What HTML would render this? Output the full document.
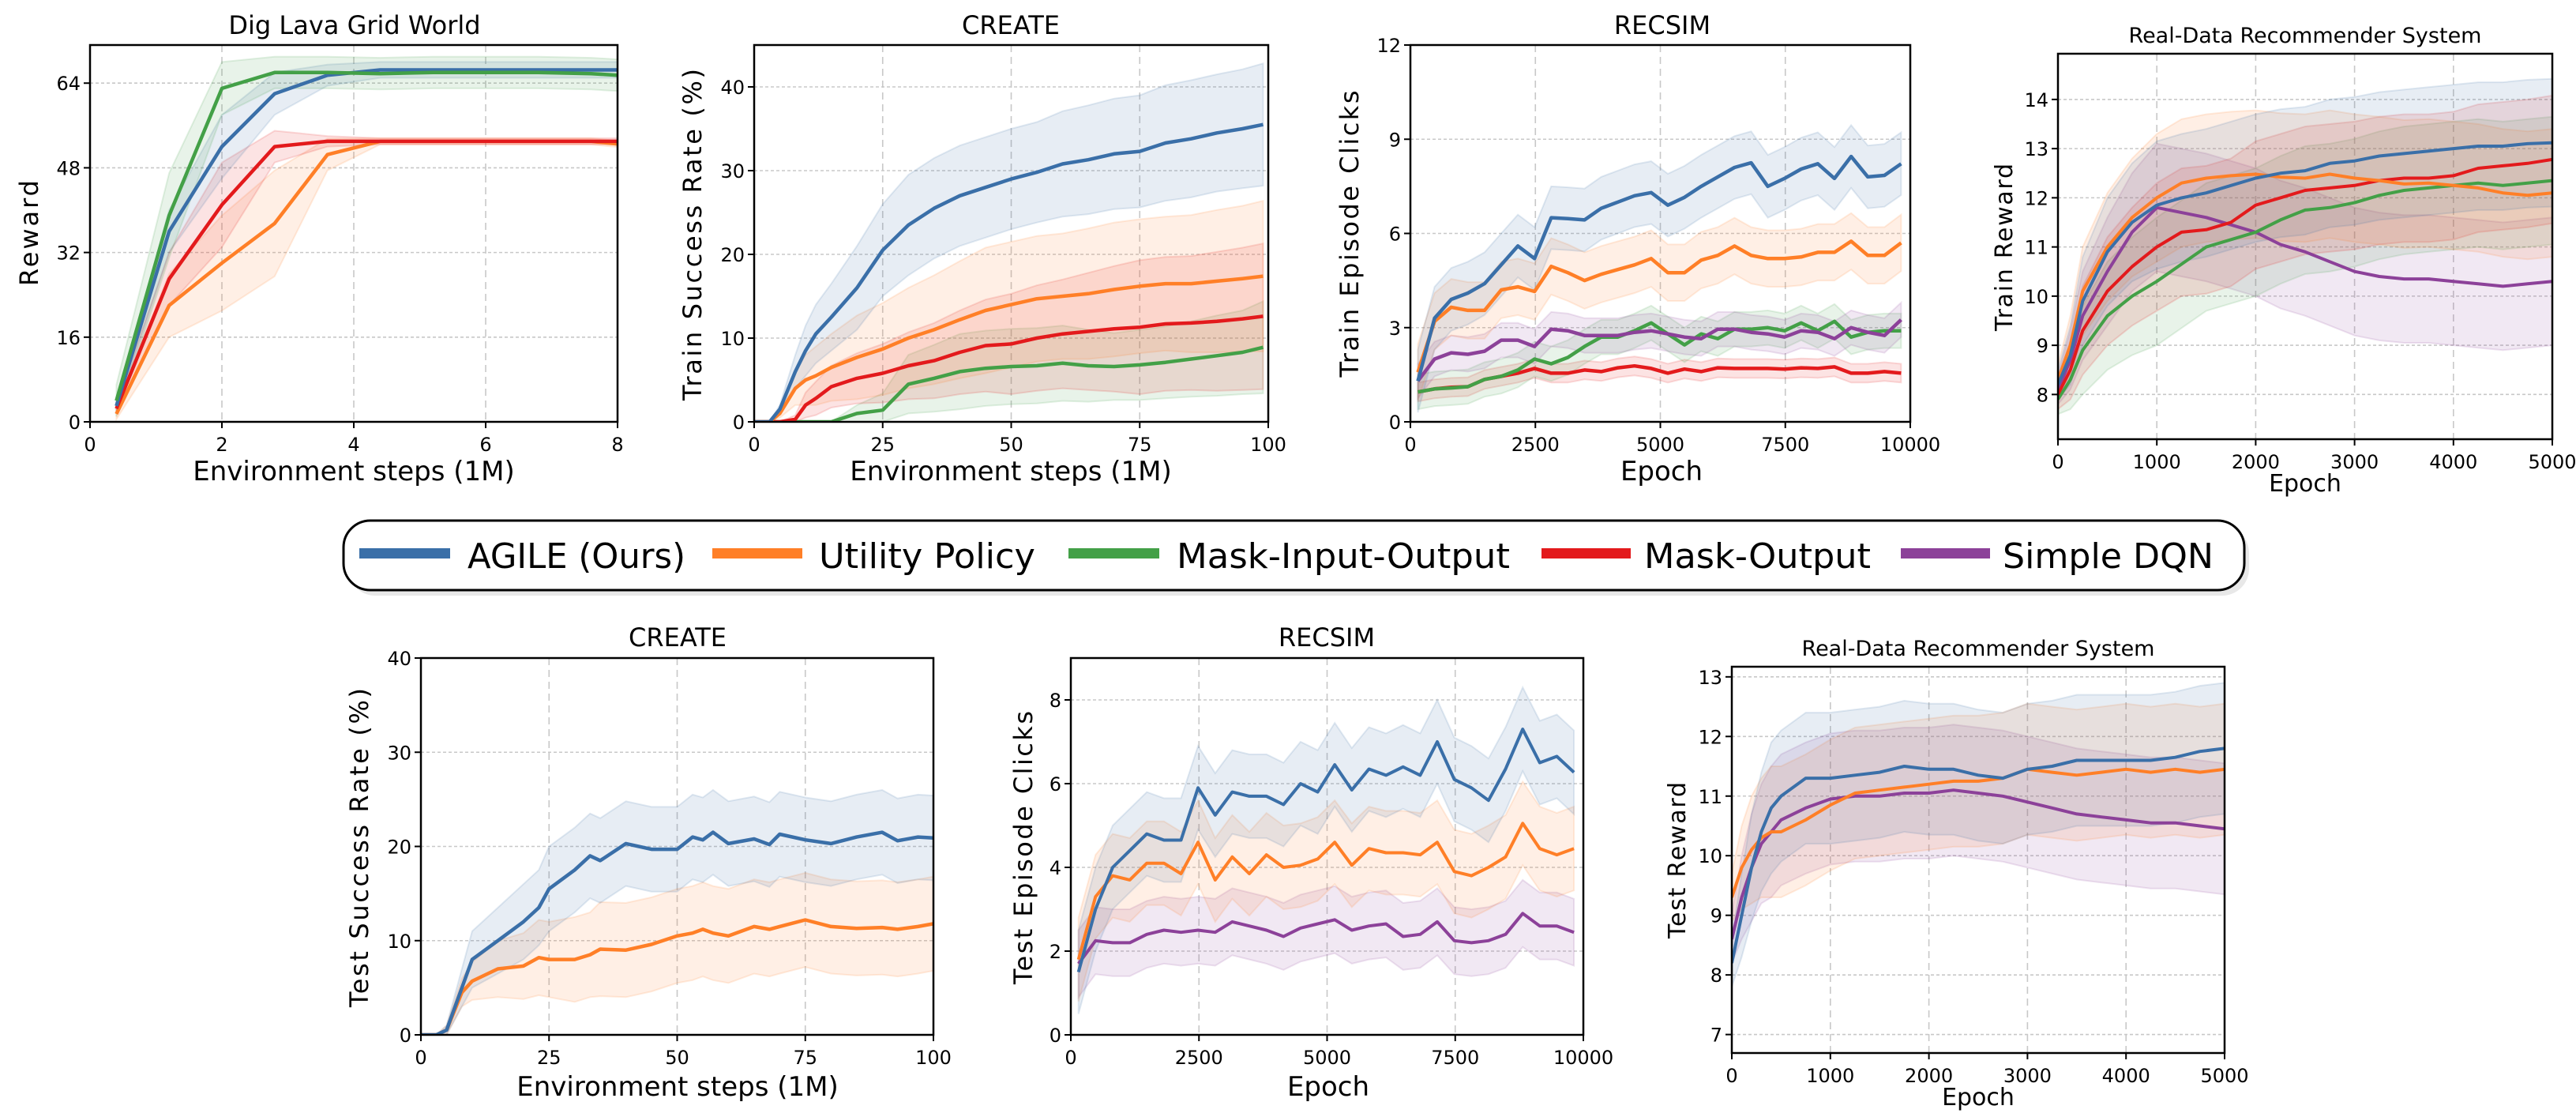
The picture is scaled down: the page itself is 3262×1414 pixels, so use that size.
<!DOCTYPE html>
<html><head><meta charset="utf-8">
<style>
html,body{margin:0;padding:0;background:#fff;}
svg{display:block;font-family:"DejaVu Sans","Liberation Sans",sans-serif;}
</style></head>
<body>
<svg id="fig" width="3262" height="1414" viewBox="0 0 3262 1414" xmlns="http://www.w3.org/2000/svg">
<g id="legend">
  <rect x="441" y="666" width="2407" height="88" rx="34" fill="#d8d8d8" opacity="0.6"/>
  <rect x="435" y="659" width="2407" height="88" rx="34" fill="#fff" stroke="#000" stroke-width="3"/>
  <g><rect x="455" y="694" width="115" height="13" fill="#3a6fa8"/><text x="592" y="719" font-size="44" textLength="276" lengthAdjust="spacingAndGlyphs">AGILE (Ours)</text></g>
  <g><rect x="902" y="694" width="114" height="13" fill="#ff7f27"/><text x="1037" y="719" font-size="44" textLength="274" lengthAdjust="spacingAndGlyphs">Utility Policy</text></g>
  <g><rect x="1353" y="694" width="115" height="13" fill="#43a047"/><text x="1490" y="719" font-size="44" textLength="422" lengthAdjust="spacingAndGlyphs">Mask-Input-Output</text></g>
  <g><rect x="1952" y="694" width="113" height="13" fill="#e31a1c"/><text x="2082" y="719" font-size="44" textLength="287" lengthAdjust="spacingAndGlyphs">Mask-Output</text></g>
  <g><rect x="2407" y="694" width="113" height="13" fill="#8c4199"/><text x="2536" y="719" font-size="44" textLength="267" lengthAdjust="spacingAndGlyphs">Simple DQN</text></g>
</g>
</svg>
<script>
// ---------- DATA ----------
const digX = [0.4,1.2,2,2.8,3.6,4.4,5.2,6,6.8,7.6,8];
const digAgile = [3,36,52,62,65.5,66.5,66.5,66.5,66.5,66.5,66.5];
const digAgileSd = [1,4,6,4,2,1.5,1.5,1.5,1.5,1.5,1.5];
const digMio = [4,39,63,66,66,65.8,66,66,66,65.8,65.5];
const digMioSd = [3,8,5,3,3,3,3,3,3,3,3];
const digMo = [2.5,27,41,52,53,53,53,53,53,53,53];
const digMoSd = [1,5,8,3,1,0.6,0.6,0.6,0.6,0.6,0.6];
const digUtil = [1.5,22,30,37.5,50.5,53,53,53,53,53,52.5];
const digUtilSd = [1,6,9,10,3,0.6,0.6,0.6,0.6,0.6,0.6];
const crX = [0,3,5,8,10,12,15,20,25,30,35,40,45,50,55,60,65,70,75,80,85,90,95,99];
const crAgile = [0,0,1.5,6,8.5,10.5,12.5,16,20.5,23.5,25.5,27,28,29,29.8,30.8,31.3,32,32.3,33.3,33.8,34.5,35,35.5];
const crAgileSd = [0,0,0.5,2,3,3.5,4,5,5.5,6,6,6,6,6,6,6.3,6.5,6.6,6.7,6.9,7,7,7.1,7.3];
const crUtil = [0,0,1,4,5,5.5,6.5,7.7,8.7,10,11,12.2,13.3,14,14.7,15,15.3,15.8,16.2,16.5,16.5,16.8,17.1,17.4];
const crUtilSd = [0,0,0.5,2,3,3.5,4,5,5.5,6,6.5,7,7.5,7.5,7.5,7.5,7.8,8,8,8,8.2,8.5,8.7,9];
const crMo = [0,0,0,0.3,2,2.8,4.2,5.2,5.8,6.7,7.3,8.3,9.1,9.3,10,10.5,10.8,11.1,11.3,11.7,11.8,12,12.3,12.6];
const crMoSd = [0,0,0,0.5,1.5,2,2.5,3,3.5,4,4.5,5,5.5,6,6.3,6.5,7,7.5,8,8,8,8.3,8.5,8.7];
const crMio = [0,0,0,0,0,0,0,1,1.4,4.5,5.2,6,6.4,6.6,6.7,7,6.7,6.6,6.8,7.1,7.5,7.9,8.3,8.9];
const crMioSd = [0,0,0,0,0,0,0,1,2,3.5,4,4.5,4.5,4.5,4.5,4.5,4.3,4,4.2,4.3,4.5,4.8,5,5.5];
const rsX = [150,483,817,1150,1483,1817,2150,2483,2817,3150,3483,3817,4150,4483,4817,5150,5483,5817,6150,6483,6817,7150,7483,7817,8150,8483,8817,9150,9483,9817];
const rsAgile = [1.3,3.3,3.9,4.1,4.4,5.0,5.6,5.2,6.5,6.47,6.43,6.8,7.0,7.2,7.3,6.9,7.15,7.5,7.8,8.1,8.25,7.5,7.75,8.05,8.22,7.75,8.45,7.8,7.85,8.22];
const rsUtil = [1.58,3.2,3.65,3.55,3.55,4.2,4.3,4.15,4.95,4.75,4.5,4.7,4.85,5.0,5.2,4.75,4.75,5.15,5.3,5.6,5.3,5.2,5.2,5.25,5.4,5.4,5.75,5.3,5.3,5.7];
const rsMio = [0.95,1.05,1.08,1.12,1.35,1.45,1.65,2.0,1.85,2.05,2.4,2.7,2.7,2.9,3.15,2.8,2.45,2.8,2.65,2.95,2.95,3.0,2.9,3.15,2.9,3.2,2.7,2.85,2.9,2.9];
const rsMo = [0.95,1.05,1.1,1.12,1.35,1.45,1.55,1.7,1.55,1.55,1.65,1.6,1.72,1.78,1.7,1.55,1.68,1.6,1.72,1.7,1.7,1.7,1.68,1.72,1.7,1.75,1.55,1.55,1.6,1.55];
const rsDqn = [1.3,2.0,2.2,2.15,2.25,2.6,2.6,2.4,2.95,2.9,2.75,2.75,2.75,2.85,2.9,2.8,2.7,2.65,2.95,2.95,2.85,2.8,2.7,2.9,2.85,2.65,3.0,2.85,2.75,3.25];
const rsSd = {agile:1.0, util:0.9, mio:0.55, mo:0.3, dqn:0.55};
const rrX = [0,125,250,500,750,1000,1250,1500,1750,2000,2250,2500,2750,3000,3250,3500,3750,4000,4250,4500,4750,5000];
const rrAgile = [8.2,8.8,9.9,10.9,11.5,11.85,12.0,12.1,12.25,12.4,12.5,12.55,12.7,12.75,12.85,12.9,12.95,13.0,13.05,13.05,13.1,13.12];
const rrUtil = [8.3,9.0,10.1,11.0,11.6,12.0,12.3,12.4,12.45,12.48,12.42,12.4,12.48,12.4,12.35,12.28,12.3,12.25,12.2,12.1,12.05,12.1];
const rrMo = [8.0,8.5,9.3,10.1,10.6,11.0,11.3,11.35,11.5,11.85,12.0,12.15,12.2,12.25,12.35,12.4,12.4,12.45,12.6,12.65,12.7,12.78];
const rrMio = [7.9,8.3,8.9,9.6,10.0,10.3,10.65,11.0,11.15,11.3,11.55,11.75,11.8,11.9,12.05,12.15,12.2,12.25,12.3,12.25,12.3,12.35];
const rrDqn = [8.1,8.7,9.6,10.5,11.3,11.8,11.7,11.6,11.45,11.3,11.05,10.9,10.7,10.5,10.4,10.35,10.35,10.3,10.25,10.2,10.25,10.3];
const rrSdEarly = [0.3,0.6,0.9,1.1,1.2,1.3,1.3,1.3,1.3,1.3,1.3,1.3,1.3,1.3,1.3,1.3,1.3,1.3,1.3,1.3,1.3,1.3];
const tcX = [0,3,5,8,10,15,20,23,25,30,33,35,40,45,50,53,55,57,60,65,68,70,75,80,85,90,93,97,100];
const tcAgile = [0,0,0.5,5,8,10,12,13.5,15.5,17.5,19,18.5,20.3,19.7,19.7,21,20.7,21.5,20.3,20.8,20.2,21.3,20.7,20.3,21,21.5,20.6,21,20.9];
const tcUtil = [0,0,0.5,4.5,5.7,7,7.3,8.2,8,8,8.5,9.1,9,9.6,10.5,10.8,11.2,10.8,10.5,11.5,11.2,11.5,12.2,11.5,11.3,11.4,11.2,11.5,11.8];
const tcAgileSd = [0,0,0.5,2,3,3.5,4,4,4.5,4.5,4.5,4.5,4.5,4.5,4.5,4.5,4.5,4.5,4.5,4.5,4.5,4.5,4.5,4.5,4.5,4.5,4.5,4.5,4.5];
const tcUtilSd = [0,0,0.5,1.5,2,3,3.5,4,4,4.5,4.5,5,5,5,5,5,5,5,5,5,5,5,5,5,5,5,5,5,5];
const tsX = [150,483,817,1150,1483,1817,2150,2483,2817,3150,3483,3817,4150,4483,4817,5150,5483,5817,6150,6483,6817,7150,7483,7817,8150,8483,8817,9150,9483,9817];
const tsAgile = [1.5,3.0,4.0,4.4,4.8,4.65,4.65,5.9,5.25,5.8,5.7,5.7,5.5,6.0,5.8,6.45,5.85,6.35,6.2,6.4,6.2,7.0,6.1,5.9,5.6,6.35,7.3,6.5,6.65,6.27];
const tsUtil = [1.8,3.3,3.8,3.7,4.1,4.1,3.85,4.6,3.7,4.25,3.85,4.3,4.0,4.05,4.2,4.6,4.05,4.45,4.35,4.35,4.3,4.6,3.9,3.8,4.0,4.25,5.05,4.45,4.3,4.45];
const tsDqn = [1.7,2.25,2.2,2.2,2.4,2.5,2.45,2.5,2.45,2.7,2.6,2.5,2.35,2.55,2.65,2.75,2.5,2.6,2.65,2.35,2.4,2.7,2.25,2.2,2.25,2.4,2.9,2.6,2.6,2.45];
const tsSd = {agile:1.0, util:1.0, dqn:0.8};
const trX = [0,100,200,300,400,500,750,1000,1250,1500,1750,2000,2250,2500,2750,3000,3250,3500,3750,4000,4250,4500,4750,5000];
const trAgile = [8.2,9.0,9.8,10.4,10.8,11.0,11.3,11.3,11.35,11.4,11.5,11.45,11.45,11.35,11.3,11.45,11.5,11.6,11.6,11.6,11.6,11.65,11.75,11.8];
const trUtil = [9.3,9.8,10.1,10.3,10.4,10.4,10.6,10.85,11.05,11.1,11.15,11.2,11.25,11.25,11.3,11.45,11.4,11.35,11.4,11.45,11.4,11.45,11.4,11.45];
const trDqn = [8.6,9.3,9.8,10.2,10.4,10.6,10.8,10.95,11.0,11.0,11.05,11.05,11.1,11.05,11.0,10.9,10.8,10.7,10.65,10.6,10.55,10.55,10.5,10.45];
const trSdArr = [0.4,0.7,0.9,1.0,1.1,1.1,1.1,1.1,1.1,1.1,1.1,1.1,1.1,1.1,1.1,1.1,1.1,1.1,1.1,1.1,1.1,1.1,1.1,1.1];

const C = {agile:'#3a6fa8', util:'#ff7f27', mio:'#43a047', mo:'#e31a1c', dqn:'#8c4199'};

const NS = 'http://www.w3.org/2000/svg';
const svg = document.getElementById('fig');
function el(tag, attrs, parent){
  const e = document.createElementNS(NS, tag);
  for (const k in attrs) e.setAttribute(k, attrs[k]);
  (parent || svg).appendChild(e);
  return e;
}
function sdArr(sd, n){ return Array.isArray(sd) ? sd : new Array(n).fill(sd); }

function panel(p){
  const g = el('g', {});
  
  
  const sx = v => p.x0 + (v - p.xmin) / (p.xmax - p.xmin) * (p.x1 - p.x0);
  const sy = v => p.y1 - (v - p.ymin) / (p.ymax - p.ymin) * (p.y1 - p.y0);
  p.xticks.forEach((t, i) => {
    const X = sx(t);
    const gl = el('line', {x1:X, x2:X, y1:p.y0, y2:p.y1, stroke:'#c8c8c8', 'stroke-width':1.6, 'stroke-dasharray':'9,6'}, g);
    
    
    el('line', {x1:X, x2:X, y1:p.y1, y2:p.y1+8, stroke:'#000', 'stroke-width':2}, g);
    const tx = el('text', {x:X, y:p.y1+37, 'font-size':24, 'text-anchor':'middle'}, g);
    tx.textContent = p.xlabels[i];
    
    
  });
  p.yticks.forEach((t, i) => {
    const Y = sy(t);
    const gl = el('line', {x1:p.x0, x2:p.x1, y1:Y, y2:Y, stroke:'#c8c8c8', 'stroke-width':1.6, 'stroke-dasharray':'4,3'}, g);
    
    
    el('line', {x1:p.x0-8, x2:p.x0, y1:Y, y2:Y, stroke:'#000', 'stroke-width':2}, g);
    const tx = el('text', {x:p.x0-12, y:Y+9, 'font-size':24, 'text-anchor':'end'}, g);
    tx.textContent = p.ylabels[i];
    
    
  });
  const clipId = 'clip-' + p.name;
  const cp = el('clipPath', {id:clipId}, g);
  el('rect', {x:p.x0, y:p.y0, width:p.x1-p.x0, height:p.y1-p.y0}, cp);
  const plot = el('g', {'clip-path':'url(#'+clipId+')'}, g);
  p.series.forEach(s => {
    const sd = sdArr(s.sd, s.y.length);
    const up = s.y.map((v,i) => sx(p.x[i]).toFixed(1)+','+sy(v+sd[i]).toFixed(1));
    const lo = s.y.map((v,i) => sx(p.x[i]).toFixed(1)+','+sy(Math.max(p.ymin, v-sd[i])).toFixed(1)).reverse();
    const b = el('polygon', {points:up.concat(lo).join(' '), fill:C[s.key], 'fill-opacity':0.12, stroke:C[s.key], 'stroke-opacity':0.15, 'stroke-width':2}, plot);
    
    
  });
  p.series.forEach(s => {
    const pts = s.y.map((v,i) => sx(p.x[i]).toFixed(1)+','+sy(v).toFixed(1)).join(' ');
    const l = el('polyline', {points:pts, fill:'none', stroke:C[s.key], 'stroke-width':p.lw||4.5, 'stroke-linejoin':'round'}, plot);
    
    
  });
  const fr = el('rect', {x:p.x0, y:p.y0, width:p.x1-p.x0, height:p.y1-p.y0, fill:'none', stroke:'#000', 'stroke-width':2.5}, g);
  
  
  const tt = el('text', {x:p.tx, y:p.ty, 'font-size':p.tfs||32, 'text-anchor':'middle'}, g);
  tt.textContent = p.title;
  
  
  const xl = el('text', {x:p.xlx, y:p.xly, 'font-size':p.xfs||34, 'text-anchor':'middle'}, g);
  xl.textContent = p.xlabel;
  
  
  const yl = el('text', {x:0, y:0, 'font-size':p.yfs||32, 'text-anchor':'middle', textLength:p.yll, lengthAdjust:'spacing', transform:'translate('+p.ylx+','+p.yly+') rotate(-90)'}, g);
  yl.textContent = p.ylabel;
  
  
}

panel({name:'dig-lava-train', x0:114,x1:782,y0:57,y1:534, xmin:0,xmax:8,ymin:0,ymax:71.2,
  xticks:[0,2,4,6,8], xlabels:['0','2','4','6','8'], yticks:[0,16,32,48,64], ylabels:['0','16','32','48','64'],
  x:digX, series:[{key:'util',y:digUtil,sd:digUtilSd},{key:'mo',y:digMo,sd:digMoSd},{key:'agile',y:digAgile,sd:digAgileSd},{key:'mio',y:digMio,sd:digMioSd}],
  title:'Dig Lava Grid World', tx:449, ty:43, xlabel:'Environment steps (1M)', xlx:448, xly:608,
  ylabel:'Reward', ylx:48, yly:295, yll:134});
panel({name:'create-train', x0:955,x1:1606,y0:57,y1:534, xmin:0,xmax:100,ymin:0,ymax:45,
  xticks:[0,25,50,75,100], xlabels:['0','25','50','75','100'], yticks:[0,10,20,30,40], ylabels:['0','10','20','30','40'],
  x:crX, series:[{key:'mio',y:crMio,sd:crMioSd},{key:'mo',y:crMo,sd:crMoSd},{key:'util',y:crUtil,sd:crUtilSd},{key:'agile',y:crAgile,sd:crAgileSd}],
  title:'CREATE', tx:1280, ty:43, xlabel:'Environment steps (1M)', xlx:1280, xly:608,
  ylabel:'Train Success Rate (%)', ylx:888, yly:297, yll:420});
panel({name:'recsim-train', x0:1786,x1:2419,y0:57,y1:534, xmin:0,xmax:10000,ymin:0,ymax:12,
  xticks:[0,2500,5000,7500,10000], xlabels:['0','2500','5000','7500','10000'], yticks:[0,3,6,9,12], ylabels:['0','3','6','9','12'],
  x:rsX, series:[{key:'mo',y:rsMo,sd:rsSd.mo},{key:'mio',y:rsMio,sd:rsSd.mio},{key:'dqn',y:rsDqn,sd:rsSd.dqn},{key:'util',y:rsUtil,sd:rsSd.util},{key:'agile',y:rsAgile,sd:rsSd.agile}],
  title:'RECSIM', tx:2105, ty:43, xlabel:'Epoch', xlx:2104, xly:608,
  ylabel:'Train Episode Clicks', ylx:1720, yly:296, yll:363});
panel({name:'real-data-train', x0:2606,x1:3232,y0:68,y1:556, xmin:0,xmax:5000,ymin:7.09,ymax:14.93,
  xticks:[0,1000,2000,3000,4000,5000], xlabels:['0','1000','2000','3000','4000','5000'], yticks:[8,9,10,11,12,13,14], ylabels:['8','9','10','11','12','13','14'],
  x:rrX, lw:4, series:[{key:'dqn',y:rrDqn,sd:rrSdEarly},{key:'mio',y:rrMio,sd:rrSdEarly},{key:'mo',y:rrMo,sd:rrSdEarly},{key:'util',y:rrUtil,sd:rrSdEarly},{key:'agile',y:rrAgile,sd:rrSdEarly}],
  title:'Real-Data Recommender System', tx:2919, ty:54, tfs:27, xlabel:'Epoch', xlx:2919, xly:622, xfs:30,
  ylabel:'Train Reward', ylx:2548, yly:313, yll:212, yfs:30});
panel({name:'create-test', x0:533,x1:1182,y0:833,y1:1310, xmin:0,xmax:100,ymin:0,ymax:40,
  xticks:[0,25,50,75,100], xlabels:['0','25','50','75','100'], yticks:[0,10,20,30,40], ylabels:['0','10','20','30','40'],
  x:tcX, series:[{key:'util',y:tcUtil,sd:tcUtilSd},{key:'agile',y:tcAgile,sd:tcAgileSd}],
  title:'CREATE', tx:858, ty:818, xlabel:'Environment steps (1M)', xlx:858, xly:1387,
  ylabel:'Test Success Rate (%)', ylx:466, yly:1073, yll:404});
panel({name:'recsim-test', x0:1356,x1:2005,y0:833,y1:1310, xmin:0,xmax:10000,ymin:0,ymax:9,
  xticks:[0,2500,5000,7500,10000], xlabels:['0','2500','5000','7500','10000'], yticks:[0,2,4,6,8], ylabels:['0','2','4','6','8'],
  x:tsX, lw:4, series:[{key:'dqn',y:tsDqn,sd:tsSd.dqn},{key:'util',y:tsUtil,sd:tsSd.util},{key:'agile',y:tsAgile,sd:tsSd.agile}],
  title:'RECSIM', tx:1680, ty:818, xlabel:'Epoch', xlx:1682, xly:1387,
  ylabel:'Test Episode Clicks', ylx:1307, yly:1073, yll:346});
panel({name:'real-data-test', x0:2193,x1:2817,y0:844,y1:1333, xmin:0,xmax:5000,ymin:6.69,ymax:13.17,
  xticks:[0,1000,2000,3000,4000,5000], xlabels:['0','1000','2000','3000','4000','5000'], yticks:[7,8,9,10,11,12,13], ylabels:['7','8','9','10','11','12','13'],
  x:trX, lw:4, series:[{key:'dqn',y:trDqn,sd:trSdArr},{key:'util',y:trUtil,sd:trSdArr},{key:'agile',y:trAgile,sd:trSdArr}],
  title:'Real-Data Recommender System', tx:2505, ty:830, tfs:27, xlabel:'Epoch', xlx:2505, xly:1399, xfs:30,
  ylabel:'Test Reward', ylx:2134, yly:1089, yll:198, yfs:30});
</script>
</body></html>
